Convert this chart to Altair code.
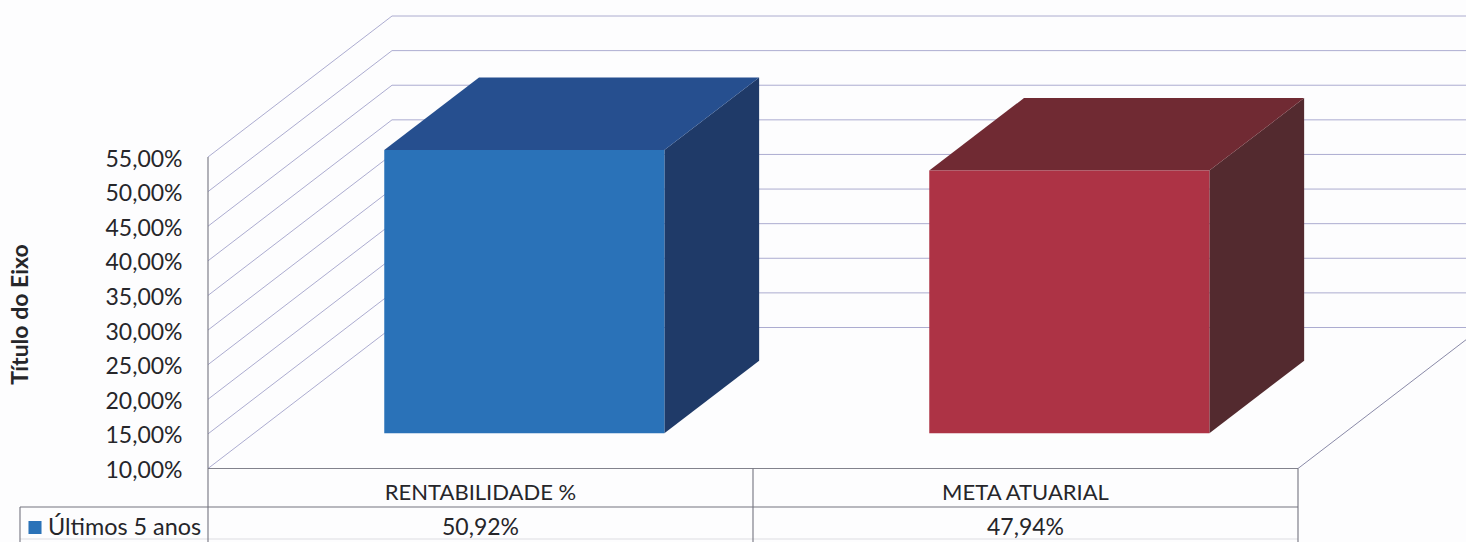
import altair as alt
import pandas as pd

# Chart content
categories = ["RENTABILIDADE %", "META ATUARIAL"]
series_name = "Últimos 5 anos"
values = [50.92, 47.94]
y_ticks = [10, 15, 20, 25, 30, 35, 40, 45, 50, 55]
axis_title = "Título do Eixo"

# Face colours of the extruded columns: front, top, side
front_colors = ["#2a72b8", "#ad3345"]
top_colors = ["#264f8f", "#702a33"]
side_colors = ["#1f3a68", "#532a2f"]
swatch_color = "#2a72b8"

# Plot frame and scale setup
WIDTH, HEIGHT = 1258, 542
SLOT_PX = 545.0
UNIT_PX = (468.5 - 157.0) / 45.0
Y_MIN = 10 - (HEIGHT - 468.5) / UNIT_PX
Y_MAX = 55 + 157.0 / UNIT_PX
X_MAX = WIDTH / SLOT_PX

# Oblique projection of the depth axis, in data units for d = 1
DX = 184.0 / SLOT_PX
DY = 141.0 / UNIT_PX
BAR_D0, BAR_D1 = 0.25, 0.765
BAR_GAP, BAR_WIDTH = 0.239, 0.514

# Rows of the data table below the floor, in value units
ROW_HEADER_TEXT = 10 - 24 / UNIT_PX
ROW_LINE = 10 - 38.5 / UNIT_PX
ROW_VALUE_TEXT = 10 - 59 / UNIT_PX
ROW_BOTTOM = Y_MIN
ROW_FAINT = 10 - 70.5 / UNIT_PX

FONT = "Lato"
TEXT = "#26262a"
WALL = "#a3a3cb"
TABLE = "#74747f"

xs = alt.Scale(domain=[0, X_MAX], nice=False, zero=False)
ys = alt.Scale(domain=[Y_MIN, Y_MAX], nice=False, zero=False)

# The value axis is declared once and shared by every layer
y_axis = alt.Axis(
    values=y_ticks,
    labelExpr="replace(format(datum.value, '.2f'), '.', ',') + '%'",
    ticks=False,
    domain=False,
    grid=False,
    labelFont=FONT,
    labelFontSize=23,
    labelColor=TEXT,
    labelPadding=26,
    labelOffset=2,
    title=axis_title,
    titleFont=FONT,
    titleFontSize=23,
    titleFontWeight="bold",
    titleColor=TEXT,
    titleX=-176,
    titleY=314,
)


def X(field):
    return alt.X(f"{field}:Q", scale=xs, axis=None)


def Y(field):
    return alt.Y(f"{field}:Q", scale=ys, axis=y_axis)


FILL = alt.Color("fill:N", scale=None)

# Gridlines: diagonal along the side wall, then horizontal along the back wall
grid_rows = []
for t in y_ticks:
    grid_rows.append({"tick": t, "s": 0, "x": 0.0, "y": float(t)})
    grid_rows.append({"tick": t, "s": 1, "x": DX, "y": t + DY})
    grid_rows.append({"tick": t, "s": 2, "x": 2 + DX, "y": t + DY})
grid = (
    alt.Chart(pd.DataFrame(grid_rows))
    .mark_line(color=WALL, strokeWidth=0.9, clip=True)
    .encode(x=X("x"), y=Y("y"), detail="tick:N", order="s:Q")
)

# Right edge of the floor running back to the wall
floor_edge = (
    alt.Chart(pd.DataFrame({"x": [2.0, 2 + DX], "y": [10.0, 10 + DY]}))
    .mark_line(color="#8a8aa8", strokeWidth=1, clip=True)
    .encode(x=X("x"), y=Y("y"))
)

# Column geometry derived from the values
front_rows, top_rows, side_rows = [], [], []
for i, (cat, v) in enumerate(zip(categories, values)):
    x0 = i + BAR_GAP + BAR_D0 * DX
    x1 = x0 + BAR_WIDTH
    base = 10 + BAR_D0 * DY
    top = v + BAR_D0 * DY
    depth_x = (BAR_D1 - BAR_D0) * DX
    depth_y = (BAR_D1 - BAR_D0) * DY
    front_rows.append({"cat": cat, "fill": front_colors[i], "x": x0, "x2": x1, "y": base, "y2": top})
    top_rows.append({"cat": cat, "fill": top_colors[i], "y": top, "x": x0, "x2": x1})
    top_rows.append({"cat": cat, "fill": top_colors[i], "y": top + depth_y, "x": x0 + depth_x, "x2": x1 + depth_x})
    side_rows.append({"cat": cat, "fill": side_colors[i], "x": x1, "y": base, "y2": top})
    side_rows.append({"cat": cat, "fill": side_colors[i], "x": x1 + depth_x, "y": base + depth_y, "y2": top + depth_y})

side = (
    alt.Chart(pd.DataFrame(side_rows))
    .mark_area(orient="vertical", opacity=1)
    .encode(x=X("x"), y=Y("y"), y2="y2:Q", color=FILL, detail="cat:N")
)
top_face = (
    alt.Chart(pd.DataFrame(top_rows))
    .mark_area(orient="horizontal", opacity=1)
    .encode(y=Y("y"), x=X("x"), x2="x2:Q", color=FILL, detail="cat:N")
)
front = (
    alt.Chart(pd.DataFrame(front_rows))
    .mark_rect(opacity=1)
    .encode(x=X("x"), x2="x2:Q", y=Y("y"), y2="y2:Q", color=FILL)
)

# Data table rules
SWATCH_X = 35 / SLOT_PX - 208 / SLOT_PX
LEFT_X = 20 / SLOT_PX - 208 / SLOT_PX
h_rules = pd.DataFrame(
    [
        {"x": 0.0, "x2": 2.0, "y": 10.0, "o": 0.9},
        {"x": LEFT_X, "x2": 2.0, "y": ROW_LINE, "o": 1.0},
        {"x": LEFT_X, "x2": 2.0, "y": ROW_FAINT, "o": 0.22},
    ]
)
v_rules = pd.DataFrame(
    [
        {"x": 0.0, "y": Y_MIN, "y2": 55.0},
        {"x": 1.0, "y": ROW_BOTTOM, "y2": 10.0},
        {"x": 2.0, "y": ROW_BOTTOM, "y2": 10.0},
        {"x": LEFT_X, "y": ROW_BOTTOM, "y2": ROW_LINE},
    ]
)
h_layer = (
    alt.Chart(h_rules)
    .mark_rule(color=TABLE, strokeWidth=1.2)
    .encode(x=X("x"), x2="x2:Q", y=Y("y"), opacity=alt.Opacity("o:Q", scale=None))
)
v_layer = (
    alt.Chart(v_rules)
    .mark_rule(color=TABLE, strokeWidth=1.1)
    .encode(x=X("x"), y=Y("y"), y2="y2:Q")
)

# Data table text
header_rows = [
    {"x": i + 0.5, "y": ROW_HEADER_TEXT, "label": c} for i, c in enumerate(categories)
]
value_rows = [
    {"x": i + 0.5, "y": ROW_VALUE_TEXT, "label": f"{v:.2f}".replace(".", ",") + "%"}
    for i, v in enumerate(values)
]
header_text = (
    alt.Chart(pd.DataFrame(header_rows))
    .mark_text(font=FONT, fontSize=22, color=TEXT, align="center", baseline="middle")
    .encode(x=X("x"), y=Y("y"), text="label:N")
)
value_text = (
    alt.Chart(pd.DataFrame(value_rows))
    .mark_text(font=FONT, fontSize=23, color=TEXT, align="center", baseline="middle")
    .encode(x=X("x"), y=Y("y"), text="label:N")
)
series_text = (
    alt.Chart(pd.DataFrame({"x": [SWATCH_X + 13 / SLOT_PX], "y": [ROW_VALUE_TEXT], "label": [series_name]}))
    .mark_text(font=FONT, fontSize=23.4, color=TEXT, align="left", baseline="middle")
    .encode(x=X("x"), y=Y("y"), text="label:N")
)
swatch = (
    alt.Chart(pd.DataFrame({"x": [SWATCH_X], "y": [ROW_VALUE_TEXT]}))
    .mark_square(size=170, color=swatch_color, opacity=1)
    .encode(x=X("x"), y=Y("y"))
)

chart = (
    alt.layer(
        grid, floor_edge, side, top_face, front, h_layer, v_layer,
        header_text, value_text, series_text, swatch,
    )
    .properties(
        width=WIDTH,
        height=HEIGHT,
        padding={"left": 208, "right": 0, "top": 0, "bottom": 0},
        autosize=alt.AutoSizeParams(type="none"),
        background="#fdfdfe",
    )
    .configure_view(stroke=None)
)

chart.save("out.html", embed_options={"renderer": "svg", "actions": False})
